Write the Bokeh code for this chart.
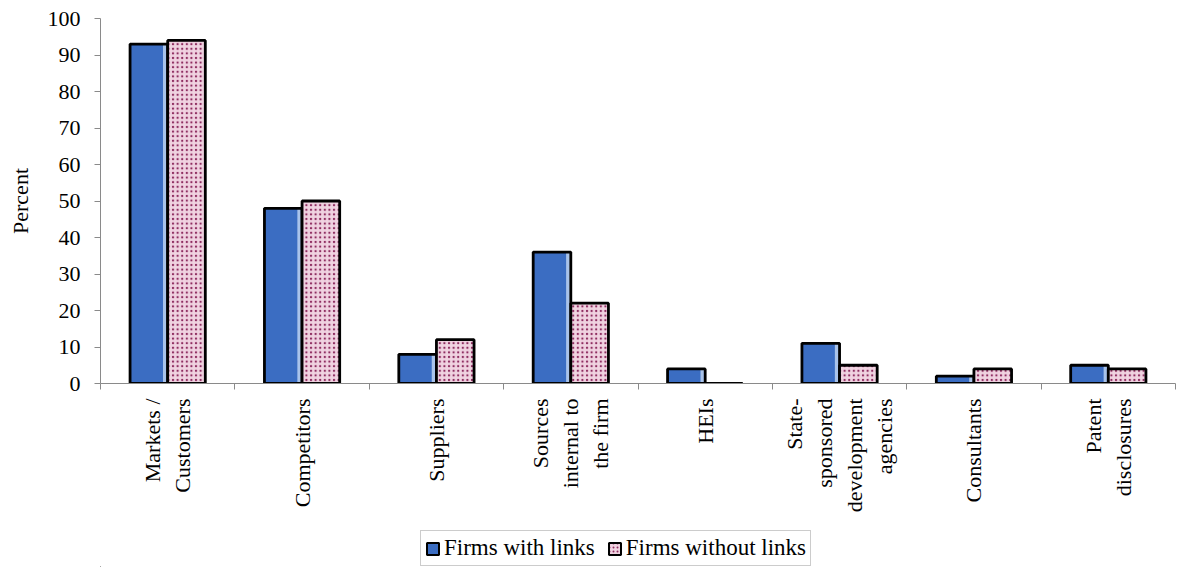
import numpy as np
from bokeh.plotting import figure
from bokeh.layouts import column
from bokeh.models import FixedTicker, Legend, LegendItem, Range1d
from bokeh.embed import file_html
from bokeh.resources import INLINE

categories = ["Markets /\nCustomers", "Competitors", "Suppliers",
              "Sources\ninternal to\nthe firm", "HEIs",
              "State-\nsponsored\ndevelopment\nagencies", "Consultants",
              "Patent\ndisclosures"]
with_links = [93, 48, 8, 36, 4, 11, 2, 5]
without_links = [94, 50, 12, 22, 0, 5, 4, 4]
series_names = ["Firms with links", "Firms without links"]
y_ticks = [0, 10, 20, 30, 40, 50, 60, 70, 80, 90, 100]

FONT = "Liberation Serif"
BLUE = "#3b6dc2"
HILITE = "#a9c3ea"
PINK = "#8e2c60"
PINK_BG = "#f0d3e1"
idx = np.arange(len(categories))

p = figure(width=1179, height=530, output_backend="svg", toolbar_location=None,
           x_range=Range1d(-0.5, len(categories) - 0.5), y_range=Range1d(0, 100),
           min_border_left=100, min_border_right=4, min_border_top=18,
           min_border_bottom=147)
p.outline_line_color = None
p.xgrid.visible = False
p.ygrid.visible = False
p.background_fill_color = "white"

bw = 0.28
hw = 0.03
p.vbar(x=idx - bw / 2, top=with_links, width=bw, bottom=0,
       fill_color=BLUE, line_color=None)
p.vbar(x=idx - hw / 2 - 0.005, top=with_links, width=hw, bottom=0,
       fill_color=HILITE, line_color=None)
p.vbar(x=idx - bw / 2, top=with_links, width=bw, bottom=0,
       fill_color=None, line_color="black", line_width=2.8)
p.vbar(x=idx + bw / 2, top=without_links, width=bw, bottom=0,
       fill_color=PINK_BG, line_color="black", line_width=2.8,
       hatch_pattern="dot", hatch_color=PINK, hatch_scale=4.6, hatch_weight=5)

# axes
p.yaxis.ticker = FixedTicker(ticks=y_ticks)
p.yaxis.axis_label = "Percent"
p.yaxis.axis_label_text_font = FONT
p.yaxis.axis_label_text_font_style = "normal"
p.yaxis.axis_label_text_font_size = "22px"
p.yaxis.axis_label_text_color = "black"
p.yaxis.axis_label_standoff = 12
p.yaxis.major_label_text_font = FONT
p.yaxis.major_label_text_font_size = "22px"
p.yaxis.major_label_text_color = "black"
p.yaxis.major_label_standoff = 14
p.yaxis.axis_line_color = "#8a8a8a"
p.yaxis.major_tick_line_color = "#8a8a8a"
p.yaxis.major_tick_out = 6
p.yaxis.major_tick_in = 0
p.yaxis.minor_tick_line_color = None

boundaries = [i - 0.5 for i in range(len(categories) + 1)]
p.xaxis.ticker = FixedTicker(ticks=list(idx), minor_ticks=boundaries)
p.xaxis.major_label_overrides = {int(i): c for i, c in zip(idx, categories)}
p.xaxis.major_label_orientation = np.pi / 2
p.xaxis.major_label_text_font = FONT
p.xaxis.major_label_text_font_size = "22px"
p.xaxis.major_label_text_color = "black"
p.xaxis.major_label_standoff = 9
p.xaxis.major_tick_line_color = None
p.xaxis.minor_tick_line_color = "#8a8a8a"
p.xaxis.minor_tick_out = 6
p.xaxis.minor_tick_in = 0
p.xaxis.axis_line_color = "#8a8a8a"

# legend strip beneath the chart (swatch glyphs sit outside the visible range)
lg = figure(width=1179, height=37, output_backend="svg", toolbar_location=None,
            x_range=Range1d(0, 1), y_range=Range1d(0, 1),
            min_border=0)
lg.outline_line_color = None
lg.axis.visible = False
lg.xgrid.visible = False
lg.ygrid.visible = False
l1 = lg.vbar(x=[-50], top=[-55], bottom=[-60], width=0.1, fill_color=BLUE,
             line_color="black", line_width=2)
l2 = lg.vbar(x=[-50], top=[-55], bottom=[-60], width=0.1, fill_color=PINK_BG,
             line_color="black", line_width=2,
             hatch_pattern="dot", hatch_color=PINK, hatch_scale=4, hatch_weight=4)
legend = Legend(items=[LegendItem(label=series_names[0], renderers=[l1]),
                       LegendItem(label=series_names[1], renderers=[l2])],
                orientation="horizontal", location=(320, 1))
legend.label_text_font = FONT
legend.label_text_font_size = "23px"
legend.label_text_color = "black"
legend.glyph_width = 15
legend.glyph_height = 15
legend.spacing = 12
legend.label_standoff = 4
legend.padding = 4
legend.margin = 0
legend.border_line_color = "#999999"
legend.border_line_width = 1
lg.add_layout(legend, "center")

layout = column(p, lg, spacing=0)
open("out.html", "w").write(file_html(layout, INLINE))
